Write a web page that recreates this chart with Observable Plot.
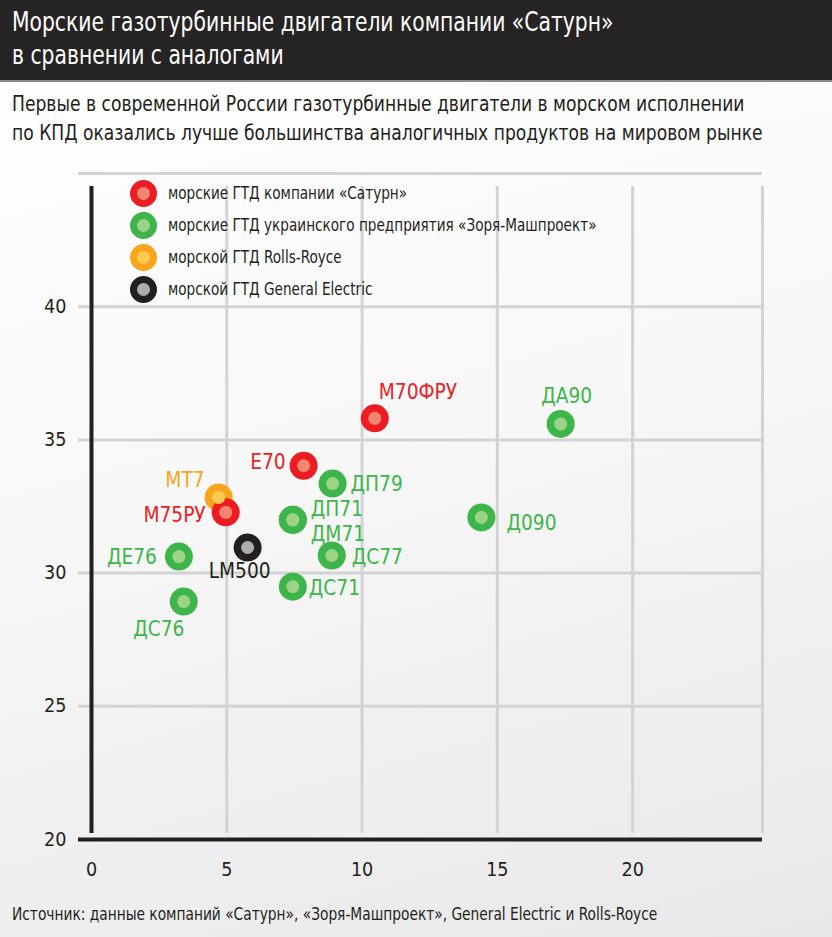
<!DOCTYPE html>
<html>
<head>
<meta charset="utf-8">
<script src="https://cdn.jsdelivr.net/npm/d3@7"></script>
<script src="https://cdn.jsdelivr.net/npm/@observablehq/plot@0.6"></script>
<style>
  html, body { margin: 0; padding: 0; }
  body {
    width: 832px; height: 937px; position: relative; overflow: hidden;
    background: linear-gradient(165deg, #ffffff 0%, #f8f8f8 45%, #e8e8e8 100%);
    font-family: "Liberation Sans Narrow", "DejaVu Sans Condensed", "Liberation Sans", sans-serif;
    color: #231f20;
  }
  .sx { display: inline-block; white-space: nowrap; transform-origin: 0 50%; }
  #header {
    position: absolute; left: 0; top: 0; width: 832px; height: 80px;
    background: #262324; border-bottom: 2px solid #8a8a8a;
    color: #fff; font-size: 27px; line-height: 33px;
  }
  #header div { padding-left: 12px; }
  #header .l1 { padding-top: 5px; }
  #header .sx { transform: scaleX(0.836); }
  #sub {
    position: absolute; left: 12px; top: 90px; font-size: 21px; line-height: 29px; color: #231f20;
  }
  #sub .sx { transform: scaleX(0.907); display: block; }
  #chart { position: absolute; left: 0; top: 150px; }
  #legend { position: absolute; left: 130px; top: 177px; font-size: 17px; }
  #legend .row { height: 32px; display: flex; align-items: center; }
  #legend .sx { transform: scaleX(0.89); }
  #legend .mk {
    width: 13px; height: 13px; border-radius: 50%; border-style: solid; border-width: 7.5px;
    margin-right: 11px; flex: none;
  }
  #caption { position: absolute; left: 12px; top: 904px; font-size: 17px; color: #231f20; }
  #caption .sx { transform: scaleX(0.9); }
</style>
</head>
<body>
<div id="header"><div class="l1"><span class="sx">Морские газотурбинные двигатели компании «Сатурн»</span></div><div><span class="sx">в сравнении с аналогами</span></div></div>
<div id="sub"><span class="sx">Первые в современной России газотурбинные двигатели в морском исполнении</span><span class="sx">по КПД оказались лучше большинства аналогичных продуктов на мировом рынке</span></div>
<div id="chart"></div>
<div id="legend"></div>
<div id="caption"><span class="sx">Источник: данные компаний «Сатурн», «Зоря-Машпроект», General Electric и Rolls-Royce</span></div>
<script>
// ---- data ----
const engines    = ["М70ФРУ","ДА90","Е70","ДП79","МТ7","М75РУ","ДП71","ДМ71","Д090","LM500","ДС77","ДЕ76","ДС71","ДС76"];
const power      = [10.47, 17.34, 7.84, 8.91, 4.70, 4.96, 7.44, 7.44, 14.41, 5.77, 8.88, 3.23, 7.44, 3.41];
const efficiency = [35.81, 35.60, 34.03, 33.36, 32.84, 32.28, 32.00, 32.00, 32.09, 30.96, 30.66, 30.62, 29.49, 28.93];
const makers     = ["saturn","zorya","saturn","zorya","rr","saturn","zorya","zorya","zorya","ge","zorya","zorya","zorya","zorya"];
const legendKeys   = ["saturn","zorya","rr","ge"];
const legendLabels = ["морские ГТД компании «Сатурн»","морские ГТД украинского предприятия «Зоря-Машпроект»","морской ГТД Rolls-Royce","морской ГТД General Electric"];
const xTicks = [0, 5, 10, 15, 20];
const yTicks = [20, 25, 30, 35, 40];
const xDomain = [0, 24.8];
const yDomain = [20, 45];

// ---- styles ----
const outerColor = {saturn: "#ec1c24", zorya: "#3db54a", rr: "#f7a51c", ge: "#231f20"};
const innerColor = {saturn: "#f2856f", zorya: "#9dd387", rr: "#fdc94f", ge: "#adadad"};
const labelColor = {saturn: "#ec1c24", zorya: "#3db54a", rr: "#f7a51c", ge: "#231f20"};
const labelPos = {
  "М70ФРУ": {a: "start",  dx: 4,   dy: -26},
  "ДА90":   {a: "middle", dx: 6,   dy: -28},
  "Е70":    {a: "end",    dx: -18, dy: -4},
  "ДП79":   {a: "start",  dx: 18,  dy: 0},
  "МТ7":    {a: "end",    dx: -14, dy: -17},
  "М75РУ":  {a: "end",    dx: -20, dy: 3},
  "ДП71":   {a: "start",  dx: 18,  dy: -11},
  "ДМ71":   {a: "start",  dx: 18,  dy: 14},
  "Д090":   {a: "start",  dx: 25,  dy: 6},
  "LM500":  {a: "middle", dx: -8,  dy: 23},
  "ДС77":   {a: "start",  dx: 20,  dy: 1},
  "ДЕ76":   {a: "end",    dx: -22, dy: 0},
  "ДС71":   {a: "start",  dx: 16,  dy: 1},
  "ДС76":   {a: "middle", dx: -25, dy: 27}
};

const rows = engines.map((n, i) => ({name: n, x: power[i], y: efficiency[i], maker: makers[i],
  outer: outerColor[makers[i]], inner: innerColor[makers[i]], lab: labelColor[makers[i]]}));

const gridColor = "#d3d3d3";
const axisColor = "#231f20";
const fontFam = '"Liberation Sans Narrow", "DejaVu Sans Condensed", "Liberation Sans", sans-serif';
const labelSize = 22;

const labelMarks = rows.map(r => {
  const p = labelPos[r.name];
  return Plot.text([r], {x: "x", y: "y", text: "name", fill: "lab", textAnchor: p.a, dx: p.dx, dy: p.dy, fontSize: labelSize});
});

const chart = Plot.plot({
  width: 832,
  height: 734,
  marginLeft: 91,
  marginRight: 70,
  marginTop: 23,
  marginBottom: 45,
  style: {fontFamily: fontFam, background: "transparent", overflow: "visible"},
  x: {domain: xDomain},
  y: {domain: yDomain},
  color: {type: "identity"},
  marks: [
    Plot.ruleX([...xTicks.slice(1), xDomain[1]], {y1: yDomain[0], y2: yDomain[1], stroke: gridColor, strokeWidth: 3, insetTop: -6, insetBottom: -13}),
    Plot.ruleY([...yTicks.slice(1), yDomain[1]], {x1: xDomain[0], x2: xDomain[1], stroke: gridColor, strokeWidth: 3, insetLeft: -13}),
    Plot.ruleX([xDomain[0]], {y1: yDomain[0], y2: yDomain[1], stroke: axisColor, strokeWidth: 4, insetTop: -6, insetBottom: -13}),
    Plot.ruleY([yDomain[0]], {x1: xDomain[0], x2: xDomain[1], stroke: axisColor, strokeWidth: 4, insetLeft: -13}),
    Plot.axisX({ticks: xTicks, tickSize: 0, tickPadding: 23, fontSize: 19, fill: "#231f20", label: null}),
    Plot.axisY({ticks: yTicks, tickSize: 0, tickPadding: 25, fontSize: 19, fill: "#231f20", label: null}),
    Plot.dot(rows, {x: "x", y: "y", r: 14, fill: "outer", stroke: "none"}),
    Plot.dot(rows, {x: "x", y: "y", r: 6.5, fill: "inner", stroke: "none"}),
    ...labelMarks
  ]
});
document.getElementById("chart").appendChild(chart);

// condense the SVG text to mimic the narrow typeface
d3.select(chart).selectAll("text").each(function () {
  const w = this.getComputedTextLength();
  const g = this.closest("g");
  const isLabel = g && g.getAttribute("font-size") === String(labelSize);
  const k = isLabel ? 0.94 : 1.03;
  if (w > 0) {
    this.setAttribute("textLength", (w * k).toFixed(1));
    this.setAttribute("lengthAdjust", "spacingAndGlyphs");
  }
});

const legend = document.getElementById("legend");
legendKeys.forEach((k, i) => {
  const row = document.createElement("div");
  row.className = "row";
  const mk = document.createElement("span");
  mk.className = "mk";
  mk.style.borderColor = outerColor[k];
  mk.style.background = innerColor[k];
  const tx = document.createElement("span");
  tx.className = "sx";
  tx.textContent = legendLabels[i];
  row.appendChild(mk); row.appendChild(tx);
  legend.appendChild(row);
});
</script>
</body>
</html>
